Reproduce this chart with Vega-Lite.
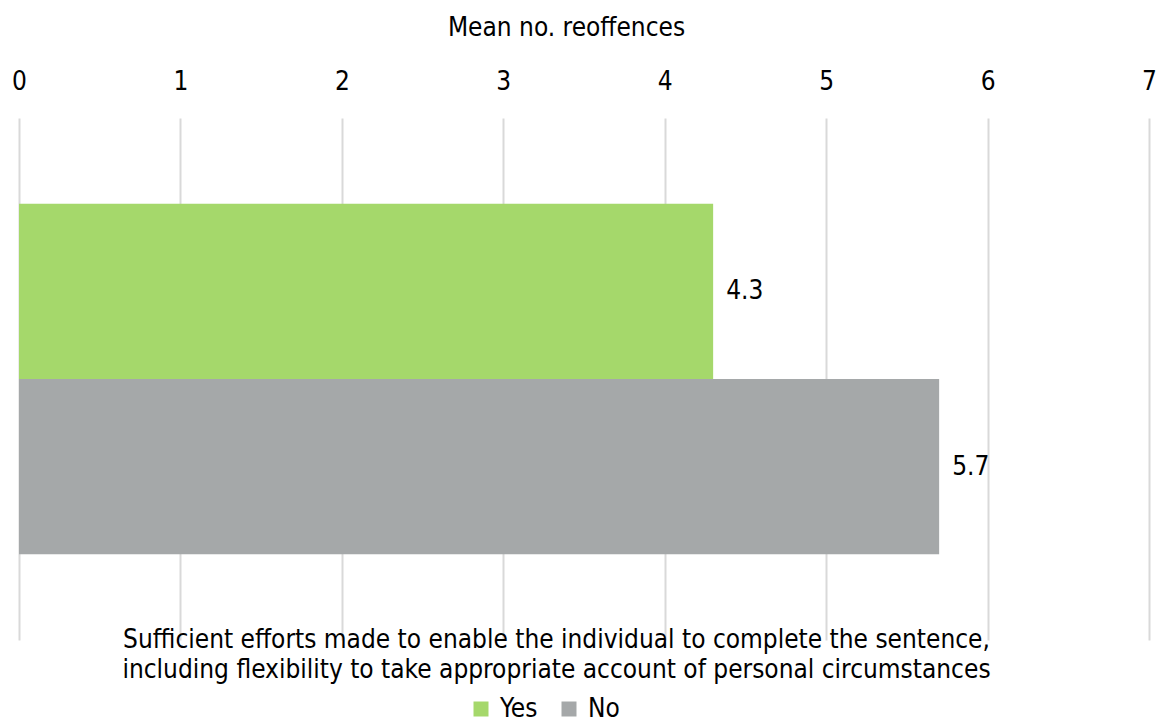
{
  "$schema": "https://vega.github.io/schema/vega-lite/v6.json",
  "width": 1130,
  "height": 522,
  "autosize": {"type": "none"},
  "padding": {"left": 19, "top": 118, "right": 7, "bottom": 82},
  "background": "white",
  "config": {
    "font": "DejaVu Sans Condensed",
    "view": {"stroke": null},
    "axis": {"labelColor": "#000000", "titleColor": "#000000", "titleFontWeight": "normal"},
    "legend": {"labelColor": "#000000"}
  },
  "data": {
    "values": [
      {"response": "Yes", "mean": 4.3},
      {"response": "No", "mean": 5.7}
    ]
  },
  "encoding": {
    "y": {
      "field": "response",
      "type": "nominal",
      "sort": ["Yes", "No"],
      "scale": {"paddingInner": 0, "paddingOuter": 0.49},
      "axis": null
    }
  },
  "layer": [
    {
      "mark": {"type": "bar"},
      "encoding": {
        "x": {
          "field": "mean",
          "type": "quantitative",
          "scale": {"domain": [0, 7], "nice": false, "zero": true},
          "axis": {
            "orient": "top",
            "title": "Mean no. reoffences",
            "titleFontSize": 26,
            "titlePadding": 28,
            "titleX": 547,
            "labelFontSize": 26,
            "labelPadding": 24,
            "values": [0, 1, 2, 3, 4, 5, 6, 7],
            "labelOverlap": false,
            "labelFlush": false,
            "ticks": false,
            "domain": false,
            "grid": true,
            "gridColor": "#d9d9d9",
            "gridWidth": 2
          }
        },
        "color": {
          "field": "response",
          "type": "nominal",
          "sort": ["Yes", "No"],
          "scale": {"domain": ["Yes", "No"], "range": ["#a5d86b", "#a5a8a9"]},
          "legend": {
            "orient": "none",
            "legendX": 449,
            "legendY": 578,
            "direction": "horizontal",
            "title": null,
            "symbolType": "square",
            "symbolSize": 225,
            "symbolStrokeWidth": 0,
            "labelFontSize": 26,
            "labelOffset": 6,
            "columnPadding": 18
          }
        }
      }
    },
    {
      "mark": {"type": "text", "align": "left", "baseline": "middle", "dx": 13, "fontSize": 26},
      "encoding": {
        "x": {
          "field": "mean",
          "type": "quantitative",
          "scale": {"domain": [0, 7], "nice": false, "zero": true},
          "axis": {
            "orient": "bottom",
            "title": [
              "Sufficient efforts made to enable the individual to complete the sentence,",
              "including flexibility to take appropriate account of personal circumstances"
            ],
            "titleFontSize": 26,
            "titleLineHeight": 30,
            "titlePadding": -14,
            "titleX": 537,
            "labels": false,
            "ticks": false,
            "domain": false,
            "grid": false
          }
        },
        "text": {"field": "mean", "type": "quantitative", "format": ".1f"}
      }
    }
  ],
  "resolve": {"axis": {"x": "independent"}}
}
